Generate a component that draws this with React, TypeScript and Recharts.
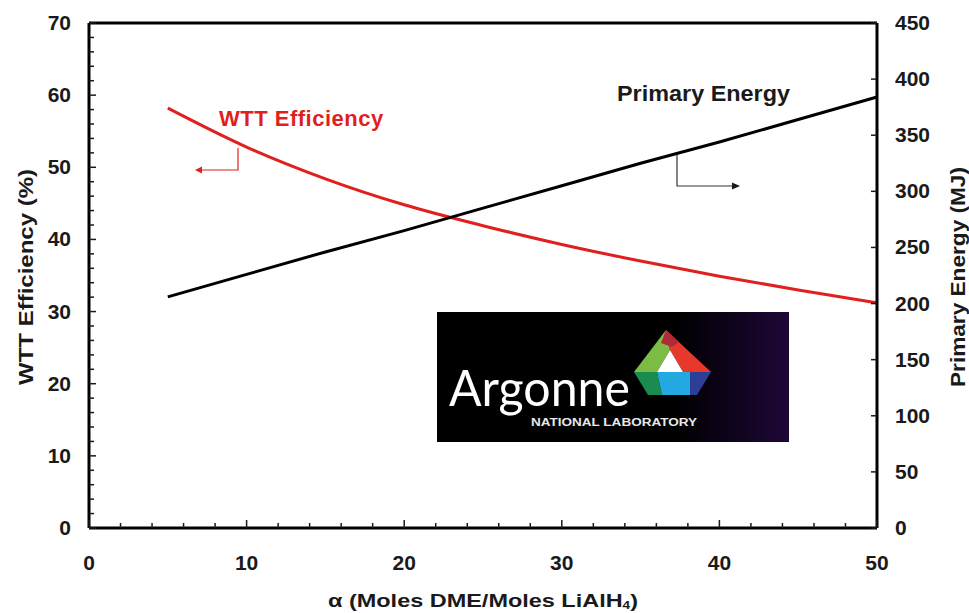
import { ComposedChart, Line, XAxis, YAxis, ReferenceLine } from "recharts";

const alpha = [5, 10, 15, 20, 25, 30, 35, 40, 45, 50];
const wttEfficiency = [58.2, 52.8, 48.4, 44.8, 41.9, 39.3, 37.0, 34.9, 33.0, 31.2];
const primaryEnergy = [206, 226, 246, 265, 285, 305, 325, 344, 364, 384];

const xTicks = [0, 2, 4, 6, 8, 10, 12, 14, 16, 18, 20, 22, 24, 26, 28, 30, 32, 34, 36, 38, 40, 42, 44, 46, 48, 50];
const leftTicks = [
  0, 2, 4, 6, 8, 10, 12, 14, 16, 18, 20, 22, 24, 26, 28, 30, 32, 34, 36, 38, 40, 42, 44, 46, 48, 50, 52, 54, 56, 58,
  60, 62, 64, 66, 68, 70,
];
const rightTicks = [0, 50, 100, 150, 200, 250, 300, 350, 400, 450];

const data = alpha.map((a, i) => ({ alpha: a, wtt: wttEfficiency[i], energy: primaryEnergy[i] }));

const FONT = '"Liberation Sans", Arial, Helvetica, sans-serif';
const INK = "#1a1a1a";
const RED = "#e01f1f";

function LeftTick(props: any) {
  const { x, y, payload } = props;
  const major = payload.value % 10 === 0;
  return (
    <g>
      <line x1={x} x2={x + (major ? 7 : 5)} y1={y} y2={y} stroke={INK} strokeWidth={1.5} />
      {major && (
        <text x={x - 18} y={y} dy={7} textAnchor="end" fontSize={21} fontWeight="bold" fill={INK} fontFamily={FONT}>
          {payload.value}
        </text>
      )}
    </g>
  );
}

function RightTick(props: any) {
  const { x, y, payload } = props;
  return (
    <g>
      <line x1={x} x2={x - 6} y1={y} y2={y} stroke={INK} strokeWidth={1.5} />
      <text x={x + 18} y={y} dy={7} textAnchor="start" fontSize={21} fontWeight="bold" fill={INK} fontFamily={FONT}>
        {payload.value}
      </text>
    </g>
  );
}

function BottomTick(props: any) {
  const { x, y, payload } = props;
  const major = payload.value % 10 === 0;
  return (
    <g>
      <line x1={x} x2={x} y1={y} y2={y - (major ? 8 : 5)} stroke={INK} strokeWidth={1.5} />
      {major && (
        <text x={x} y={y + 42} textAnchor="middle" fontSize={21} fontWeight="bold" fill={INK} fontFamily={FONT}>
          {payload.value}
        </text>
      )}
    </g>
  );
}

function ArgonneLogo() {
  return (
    <g>
      <defs>
        <linearGradient id="logoBg" x1="0" x2="1" y1="0" y2="0">
          <stop offset="0" stopColor="#000" />
          <stop offset="0.68" stopColor="#000" />
          <stop offset="1" stopColor="#1e0838" />
        </linearGradient>
      </defs>
      <rect x={437} y={312} width={352} height={130} fill="url(#logoBg)" />
      <text
        x={449}
        y={406}
        fontSize={50}
        fill="#fff"
        fontFamily="Lato, 'Open Sans', sans-serif"
        textLength={181}
        lengthAdjust="spacingAndGlyphs"
      >
        Argonne
      </text>
      <text
        x={531}
        y={426}
        fontSize={10}
        fontWeight="bold"
        fill="#e8e8e8"
        fontFamily={FONT}
        textLength={166}
        lengthAdjust="spacingAndGlyphs"
      >
        NATIONAL LABORATORY
      </text>
      {/* triangle mark */}
      <polygon points="666,330 670,350 657,372 634,372" fill="#7cbc44" />
      <polygon points="666,330 711,372 683,372 670,350" fill="#e8372b" />
      <polygon points="666,330 679,342 672,347 661,343" fill="#b02a3a" />
      <polygon points="670,350 683,372 657,372" fill="#ffffff" />
      <polygon points="634,372 657,372 662,395 648,395" fill="#1a8c50" />
      <polygon points="657,372 690,372 690,395 662,395" fill="#22a9e1" />
      <polygon points="690,372 711,372 697,395 690,395" fill="#2c3f95" />
    </g>
  );
}

function Annotations() {
  return (
    <g fontFamily={FONT}>
      <text x={219} y={126} fontSize={22} fontWeight="bold" fill={RED} letterSpacing={0.5}>
        WTT Efficiency
      </text>
      <polyline points="238,148 238,170 200,170" fill="none" stroke={RED} strokeWidth={1.2} />
      <polygon points="195,170 202,166.5 202,173.5" fill={RED} />
      <text x={617} y={101} fontSize={22} fontWeight="bold" fill={INK} textLength={173} lengthAdjust="spacingAndGlyphs">
        Primary Energy
      </text>
      <polyline points="677,155 677,186 733,186" fill="none" stroke="#333" strokeWidth={1.2} />
      <polygon points="740,186 732,182.5 732,189.5" fill={INK} />
    </g>
  );
}

export default function App() {
  return (
    <div style={{ position: "absolute", left: 0, top: 0, width: 969, height: 613, background: "#fff" }}>
      <ComposedChart width={969} height={613} data={data} margin={{ top: 23, right: 0, bottom: 0, left: 0 }}>
        <XAxis
          dataKey="alpha"
          type="number"
          domain={[0, 50]}
          ticks={xTicks}
          interval={0}
          height={85}
          tickSize={0}
          tickMargin={0}
          tickLine={false}
          axisLine={{ stroke: "#000", strokeWidth: 3 }}
          tick={<BottomTick />}
          label={{
            content: ({ viewBox }: any) => (
              <text
                x={328}
                y={viewBox.y + 79}
                fontSize={19}
                fontWeight="bold"
                fill={INK}
                fontFamily={FONT}
                textLength={310}
                lengthAdjust="spacingAndGlyphs"
              >
                α (Moles DME/Moles LiAlH
                <tspan fontSize={11} dy={2}>
                  4
                </tspan>
                <tspan dy={-2}>)</tspan>
              </text>
            ),
          }}
        />
        <YAxis
          yAxisId="left"
          orientation="left"
          domain={[0, 70]}
          ticks={leftTicks}
          interval={0}
          width={89}
          tickSize={0}
          tickMargin={0}
          tickLine={false}
          axisLine={{ stroke: "#000", strokeWidth: 3 }}
          tick={<LeftTick />}
          label={{
            content: ({ viewBox }: any) => (
              <text
                transform={`translate(${viewBox.x + 33}, ${viewBox.y + 254}) rotate(-90)`}
                textAnchor="middle"
                fontSize={21}
                fontWeight="bold"
                fill={INK}
                fontFamily={FONT}
                textLength={216}
                lengthAdjust="spacingAndGlyphs"
              >
                WTT Efficiency (%)
              </text>
            ),
          }}
        />
        <YAxis
          yAxisId="right"
          orientation="right"
          domain={[0, 450]}
          ticks={rightTicks}
          interval={0}
          width={92}
          tickSize={0}
          tickMargin={0}
          tickLine={false}
          axisLine={{ stroke: "#000", strokeWidth: 3 }}
          tick={<RightTick />}
          label={{
            content: ({ viewBox }: any) => (
              <text
                transform={`translate(${viewBox.x + 88}, ${viewBox.y + 254}) rotate(-90)`}
                textAnchor="middle"
                fontSize={21}
                fontWeight="bold"
                fill={INK}
                fontFamily={FONT}
                textLength={220}
                lengthAdjust="spacingAndGlyphs"
              >
                Primary Energy (MJ)
              </text>
            ),
          }}
        />
        <ReferenceLine yAxisId="left" y={70} stroke="#000" strokeWidth={3} />
        <Line
          yAxisId="left"
          dataKey="wtt"
          type="monotone"
          stroke={RED}
          strokeWidth={3}
          dot={false}
          isAnimationActive={false}
        />
        <Line
          yAxisId="right"
          dataKey="energy"
          type="linear"
          stroke="#000"
          strokeWidth={3}
          dot={false}
          isAnimationActive={false}
        />
      </ComposedChart>
      <svg width={969} height={613} style={{ position: "absolute", left: 0, top: 0, pointerEvents: "none" }}>
        <Annotations />
        <ArgonneLogo />
      </svg>
    </div>
  );
}
